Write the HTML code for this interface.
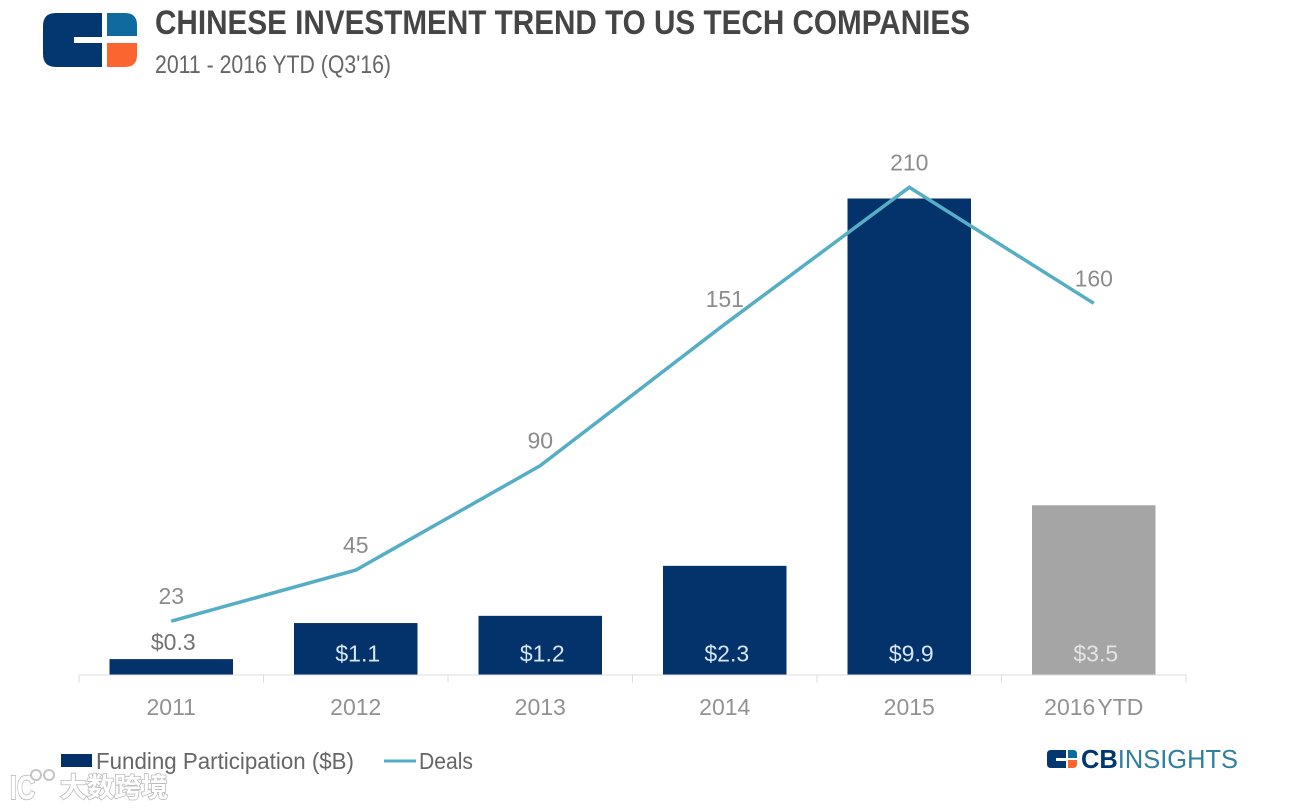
<!DOCTYPE html>
<html>
<head>
<meta charset="utf-8">
<title>Chinese Investment Trend to US Tech Companies</title>
<style>
html,body{margin:0;padding:0;background:#fff;}
body{width:1290px;height:808px;overflow:hidden;font-family:"Liberation Sans","Noto Sans CJK SC",sans-serif;}
svg{display:block;}
text{font-family:"Liberation Sans","Noto Sans CJK SC",sans-serif;}
</style>
</head>
<body>
<svg id="chart" width="1290" height="808" viewBox="0 0 1290 808" xmlns="http://www.w3.org/2000/svg">
  <rect x="0" y="0" width="1290" height="808" fill="#ffffff"/>

  <g>
    <path d="M56 13H102V37H74V43H102V67H56Q43 67 43 54V26Q43 13 56 13Z" fill="#04376f"/>
    <path d="M107 13H125Q137 13 137 25V36H107Z" fill="#0f6a9e"/>
    <path d="M107 43H137V55Q137 67 125 67H107Z" fill="#fb6530"/>
  </g>

  <text x="155" y="34" font-size="34" font-weight="700" fill="#454545" textLength="815" lengthAdjust="spacingAndGlyphs">CHINESE INVESTMENT TREND TO US TECH COMPANIES</text>
  <text x="155" y="73" font-size="25" fill="#666666" textLength="236" lengthAdjust="spacingAndGlyphs">2011 - 2016 YTD (Q3'16)</text>

  <g id="bars"></g>
  <g id="axis"></g>
  <g id="line"></g>
  <g id="labels"></g>

  <g>
    <g>
      <rect x="61" y="754" width="31" height="13" fill="#04306a"/>
      <text x="96" y="769" font-size="23" fill="#666666" textLength="258" lengthAdjust="spacingAndGlyphs">Funding Participation ($B)</text>
    </g>
    <g>
      <line x1="384" y1="761" x2="416" y2="761" stroke="#55aec6" stroke-width="3"/>
      <text x="419" y="769" font-size="23" fill="#666666" textLength="54" lengthAdjust="spacingAndGlyphs">Deals</text>
    </g>
  </g>

  <g>
    <path d="M1051 750H1066V758H1056V761H1066V768H1051Q1047 768 1047 764V754Q1047 750 1051 750Z" fill="#04376f"/>
    <path d="M1068 750H1073Q1077 750 1077 754V758H1068Z" fill="#0f6a9e"/>
    <path d="M1068 760H1077V764Q1077 768 1073 768H1068Z" fill="#fb6530"/>
    <text x="1081" y="768" font-size="26" textLength="157" lengthAdjust="spacingAndGlyphs"><tspan font-weight="700" fill="#04376f">CB</tspan><tspan fill="#2f7f9f">INSIGHTS</tspan></text>
  </g>

  <g>
    <text x="10" y="799" font-size="33" font-weight="700" fill="#ffffff" stroke="#c4c4c4" stroke-width="2" paint-order="stroke" textLength="25" lengthAdjust="spacingAndGlyphs">IC</text>
    <circle cx="36" cy="775" r="5" fill="#ffffff" stroke="#c4c4c4" stroke-width="2"/>
    <circle cx="49" cy="775" r="5" fill="#ffffff" stroke="#c4c4c4" stroke-width="2"/>
    <text x="60" y="797" font-size="27" font-weight="700" fill="#ffffff" stroke="#bcbcbc" stroke-width="1.6" paint-order="stroke">大数跨境</text>
  </g>
</svg>

<script>
const categories = ["2011", "2012", "2013", "2014", "2015", "2016 YTD"];
const fundingValues = [0.32, 1.07, 1.22, 2.26, 9.9, 3.52];
const fundingLabels = ["$0.3", "$1.1", "$1.2", "$2.3", "$9.9", "$3.5"];
const dealValues = [23, 45, 90, 151, 210, 160];

const NS = "http://www.w3.org/2000/svg";
const axisLeft = 79;
const axisRight = 1186;
const baseline = 674.5;
const barWidth = 123.5;
const step = (axisRight - axisLeft) / categories.length;

function xCenter(i) { return axisLeft + step * (i + 0.5); }
function yFunding(v) { return baseline - v * 48.08; }
function yDeals(v) { return baseline - v * 2.32; }

function make(tag, attrs, parent, content) {
  const el = document.createElementNS(NS, tag);
  for (const k in attrs) el.setAttribute(k, attrs[k]);
  if (content !== undefined) el.textContent = content;
  parent.appendChild(el);
  return el;
}

const barsGroup = document.getElementById("bars");
const axisGroup = document.getElementById("axis");
const lineGroup = document.getElementById("line");
const labelsGroup = document.getElementById("labels");

fundingValues.forEach(function (v, i) {
  const y = yFunding(v);
  const bar = make("rect", {
    x: xCenter(i) - barWidth / 2,
    y: y,
    width: barWidth,
    height: baseline - y,
    fill: i === fundingValues.length - 1 ? "#a5a5a5" : "#04326a"
  }, barsGroup);
  
  

  const inside = baseline - y > 30;
  const label = make("text", {
    x: xCenter(i) + 2,
    y: inside ? baseline - 13 : y - 9,
    "font-size": 23,
    "text-anchor": "middle",
    fill: inside ? (i === fundingValues.length - 1 ? "#e4e4e4" : "#d6e6f4") : "#737373"
  }, labelsGroup, fundingLabels[i]);
  
  

  const cat = make("text", {
    x: xCenter(i),
    y: 715,
    "font-size": 23,
    "text-anchor": "middle",
    "word-spacing": "-4",
    fill: "#929292"
  }, axisGroup, categories[i]);
  
  
});

const axisLine = make("line", {
  x1: axisLeft, y1: baseline + 0.5, x2: axisRight, y2: baseline + 0.5,
  stroke: "#dddddd", "stroke-width": 1
}, axisGroup);



for (let t = 0; t <= categories.length; t++) {
  const tx = axisLeft + step * t;
  const tick = make("line", {
    x1: tx, y1: baseline, x2: tx, y2: baseline + 8,
    stroke: "#dddddd", "stroke-width": 1
  }, axisGroup);
  
  
}

const linePoints = dealValues.map(function (v, i) {
  return xCenter(i) + "," + yDeals(v);
}).join(" ");
const dealsLine = make("polyline", {
  points: linePoints,
  fill: "none",
  stroke: "#55aec6",
  "stroke-width": 3.5,
  "stroke-linejoin": "miter"
}, lineGroup);



dealValues.forEach(function (v, i) {
  const lab = make("text", {
    x: xCenter(i),
    y: yDeals(v) - 17,
    "font-size": 23,
    "text-anchor": "middle",
    fill: "#8c8c8c"
  }, labelsGroup, String(v));
  
  
});
</script>
</body>
</html>
